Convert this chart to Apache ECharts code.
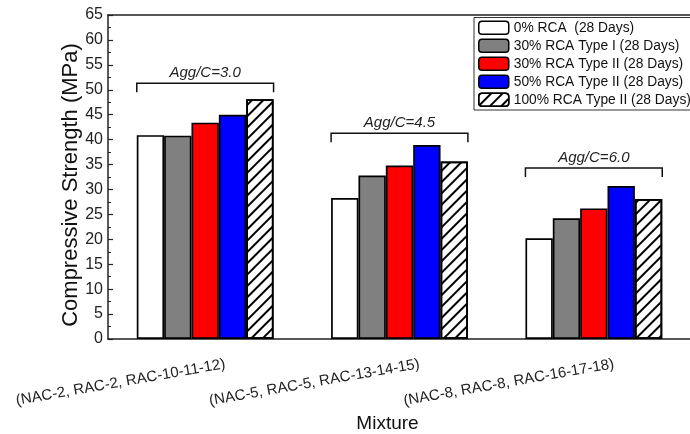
<!DOCTYPE html>
<html>
<head>
<meta charset="utf-8">
<script src="https://cdn.jsdelivr.net/npm/echarts@6/dist/echarts.min.js"></script>
<style>
  html, body { margin: 0; padding: 0; background: #fff; }
  #chart { width: 690px; height: 434px; }
</style>
</head>
<body>
<div id="chart"></div>
<script>
var FONT = "'Liberation Sans', Arial, sans-serif";

var mixtures = ['(NAC-2, RAC-2, RAC-10-11-12)', '(NAC-5, RAC-5, RAC-13-14-15)', '(NAC-8, RAC-8, RAC-16-17-18)'];
var seriesNames = ['0% RCA  (28 Days)', '30% RCA Type I (28 Days)', '30% RCA Type II (28 Days)', '50% RCA Type II (28 Days)', '100% RCA Type II (28 Days)'];
var rca0 = [40.9, 28.3, 20.2];
var rca30TypeI = [40.8, 32.8, 24.2];
var rca30TypeII = [43.4, 34.8, 26.2];
var rca50TypeII = [45.0, 38.9, 30.7];
var rca100TypeII = [48.1, 35.6, 28.1];
var groupLabels = ['Agg/C=3.0', 'Agg/C=4.5', 'Agg/C=6.0'];
var bracketLevels = [51.3, 41.3, 34.3];

var seriesValues = [rca0, rca30TypeI, rca30TypeII, rca50TypeII, rca100TypeII];
var seriesColors = ['#ffffff', '#808080', '#ff0000', '#0000ff', '#ffffff'];

function renderBracket(params, api) {
    var p = api.coord([api.value(0), api.value(1)]);
    var half = api.size([1, 0])[0] * 0.352;
    var leg = 9;
    return {
        type: 'group',
        children: [{
            type: 'polyline',
            shape: {
                points: [[p[0] - half, p[1] + leg], [p[0] - half, p[1]], [p[0] + half, p[1]], [p[0] + half, p[1] + leg]]
            },
            style: { stroke: '#111', lineWidth: 1.5, fill: null }
        }, {
            type: 'text',
            x: p[0],
            y: p[1] - 3,
            style: {
                text: groupLabels[params.dataIndex],
                fontFamily: FONT,
                fontStyle: 'italic',
                fontSize: 15,
                fill: '#222',
                align: 'center',
                verticalAlign: 'bottom'
            }
        }]
    };
}

var series = seriesValues.map(function (vals, i) {
    var s = {
        name: seriesNames[i],
        type: 'bar',
        xAxisIndex: 0,
        yAxisIndex: 0,
        barGap: 0,
        barCategoryGap: '29.6%',
        itemStyle: {
            color: seriesColors[i],
            borderColor: '#000',
            borderWidth: 1.7
        },
        data: vals
    };
    if (i === 4) {
        s.itemStyle.decal = {
            symbol: 'rect',
            symbolSize: 1,
            dashArrayX: [1, 0],
            dashArrayY: [1.3, 5.2],
            rotation: -Math.PI / 4,
            color: '#000'
        };
    }
    return s;
});
series.push({
    type: 'custom',
    xAxisIndex: 0,
    yAxisIndex: 0,
    renderItem: renderBracket,
    clip: false,
    silent: true,
    z: 5,
    data: bracketLevels.map(function (v, i) { return [i, v]; })
});

var myChart = echarts.init(document.getElementById('chart'), null, { renderer: 'canvas' });
var option = {
    animation: false,
    backgroundColor: '#fff',
    textStyle: { fontFamily: FONT },
    legend: {
        data: seriesNames,
        orient: 'vertical',
        left: 474,
        top: 17.5,
        padding: [3, 10, 3, 4],
        itemWidth: 30,
        itemHeight: 13,
        itemGap: 3.5,
        backgroundColor: '#fff',
        borderColor: '#333',
        borderWidth: 1,
        itemStyle: { borderColor: '#000', borderWidth: 1.5 },
        textStyle: { fontFamily: FONT, fontSize: 13.8, color: '#111', lineHeight: 14 },
        selectedMode: false
    },
    grid: [{
        left: 108,
        top: 15,
        width: 583,
        height: 324,
        outerBoundsMode: 'none'
    }, {
        left: 128,
        top: 15,
        width: 583,
        height: 324,
        outerBoundsMode: 'none'
    }],
    xAxis: [{
        type: 'category',
        gridIndex: 0,
        data: mixtures,
        axisLine: { lineStyle: { color: '#222', width: 1.5 } },
        axisTick: { show: false },
        axisLabel: { show: false },
        name: 'Mixture',
        nameLocation: 'middle',
        nameGap: 75,
        nameMoveOverlap: false,
        nameTextStyle: { fontFamily: FONT, fontSize: 19, color: '#111', padding: [0, 24, 0, 0] }
    }, {
        type: 'category',
        gridIndex: 0,
        position: 'top',
        data: mixtures,
        axisLine: { lineStyle: { color: '#222', width: 1.5 } },
        axisTick: { show: false },
        axisLabel: { show: false }
    }, {
        type: 'category',
        gridIndex: 1,
        data: mixtures,
        axisLine: { show: false },
        axisTick: { show: false },
        axisLabel: {
            rotate: 10,
            margin: 25,
            interval: 0,
            fontFamily: FONT,
            fontSize: 15,
            color: '#222'
        }
    }],
    yAxis: [{
        type: 'value',
        gridIndex: 0,
        min: 0,
        max: 65,
        interval: 5,
        axisLine: { show: true, lineStyle: { color: '#222', width: 1.5 } },
        axisTick: { show: true, inside: true, length: 5, lineStyle: { color: '#222', width: 1.2 } },
        minorTick: { show: true, splitNumber: 2, length: 3, lineStyle: { color: '#222', width: 1 } },
        splitLine: { show: false },
        axisLabel: { fontFamily: FONT, fontSize: 16, color: '#222', margin: 5 },
        name: 'Compressive Strength (MPa)',
        nameLocation: 'middle',
        nameGap: 26,
        nameMoveOverlap: false,
        nameTextStyle: { fontFamily: FONT, fontSize: 22, color: '#111', padding: [0, 16, 0, 0] }
    }, {
        type: 'value',
        gridIndex: 1,
        show: false
    }],
    series: series
};
myChart.setOption(option);
</script>
</body>
</html>
